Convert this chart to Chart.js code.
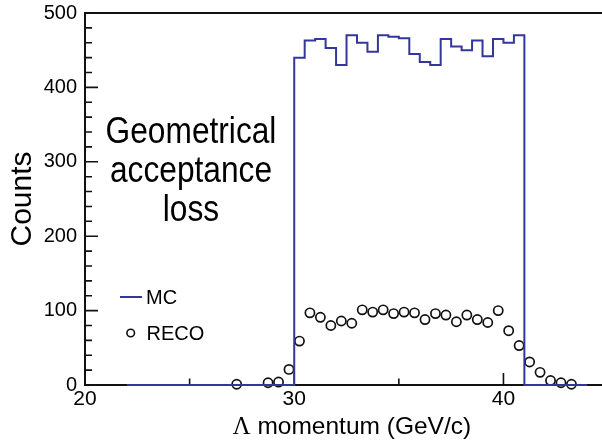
<!DOCTYPE html>
<html>
<head>
<meta charset="utf-8">
<script src="https://cdn.jsdelivr.net/npm/chart.js@4/dist/chart.umd.min.js"></script>
<style>
  html, body { margin: 0; padding: 0; background: #fff; }
  #wrap { width: 602px; height: 445px; }
</style>
</head>
<body>
<div id="wrap"><canvas id="ctx" width="602" height="445"></canvas></div>
<script>
// histogram binning (GeV/c)
const binWidth = 0.5;
const histLow = 22;

// MC counts per 0.5 GeV/c bin, 22 -> 44
const mcCounts = [
  0, 0, 0, 0, 0, 0, 0, 0, 0, 0, 0, 0, 0, 0, 0, 0,
  440, 463, 465, 453, 430, 470, 460, 448, 470, 468, 466,
  445, 434, 430, 465, 455, 450, 463, 442, 465, 460, 470,
  0, 0, 0, 0, 0, 0
];

// reconstructed counts, same bins
const recoCounts = [
  0, 0, 0, 0, 0, 0, 0, 0, 0, 0, 1, 0, 0, 3, 4, 21,
  59, 97, 91, 80, 86, 83, 101, 98, 101, 96, 98,
  97, 88, 96, 94, 85, 94, 88, 84, 100, 73, 53,
  31, 17, 6, 3, 1, 0
];

const xTicks = [20, 30, 40];
const xMinorTicks = [25, 35];
const yTicks = [0, 100, 200, 300, 400, 500];

const SANS = '"Liberation Sans", Arial, Helvetica, sans-serif';
const SERIF = '"Liberation Serif", "Times New Roman", serif';
const MC_BLUE = '#33379a';

// stepped line needs the left edge of every bin plus the closing edge
const mcPoints = mcCounts.map((c, i) => ({ x: histLow + i * binWidth, y: c }));
mcPoints.push({ x: histLow + mcCounts.length * binWidth, y: mcCounts[mcCounts.length - 1] });

// markers sit at bin centres, empty bins are not drawn
const recoPoints = recoCounts
  .map((c, i) => ({ x: histLow + (i + 0.5) * binWidth, y: c }))
  .filter(p => p.y > 0);

// ROOT-style frame: axis lines with ticks pointing into the pad
const frame = {
  id: 'frame',
  beforeDatasetsDraw(chart) {
    const { ctx, chartArea: a, scales: { x, y } } = chart;
    ctx.save();
    ctx.strokeStyle = '#111';
    ctx.lineWidth = 2;
    ctx.beginPath();
    ctx.moveTo(chart.width, a.top);
    ctx.lineTo(a.left, a.top);
    ctx.lineTo(a.left, a.bottom);
    ctx.lineTo(chart.width, a.bottom);
    ctx.stroke();

    ctx.lineWidth = 1.6;
    ctx.beginPath();
    for (let v = 0; v <= 500; v += 20) {
      const py = y.getPixelForValue(v);
      const len = yTicks.includes(v) ? 13 : 7;
      ctx.moveTo(a.left, py);
      ctx.lineTo(a.left + len, py);
    }
    xTicks.forEach(v => {
      const px = x.getPixelForValue(v);
      ctx.moveTo(px, a.bottom);
      ctx.lineTo(px, a.bottom - 12);
    });
    xMinorTicks.forEach(v => {
      const px = x.getPixelForValue(v);
      ctx.moveTo(px, a.bottom);
      ctx.lineTo(px, a.bottom - 6.5);
    });
    ctx.stroke();
    ctx.restore();
  }
};

// axis titles, legend and the annotation
const labels = {
  id: 'labels',
  afterDraw(chart) {
    const { ctx, chartArea: a } = chart;
    ctx.save();
    ctx.fillStyle = '#000';

    // y title
    ctx.save();
    ctx.translate(22.5, 199);
    ctx.rotate(-Math.PI / 2);
    ctx.font = '30px ' + SANS;
    ctx.textAlign = 'center';
    ctx.textBaseline = 'middle';
    ctx.fillText('Counts', 0, 0);
    ctx.restore();

    // x title, Lambda in a serif face
    const sym = 'Λ';
    const rest = ' momentum (GeV/c)';
    ctx.textBaseline = 'alphabetic';
    ctx.textAlign = 'left';
    ctx.font = '24.5px ' + SERIF;
    const w1 = ctx.measureText(sym).width;
    ctx.font = '24.5px ' + SANS;
    const w2 = ctx.measureText(rest).width;
    let tx = 352 - (w1 + w2) / 2;
    ctx.font = '24.5px ' + SERIF;
    ctx.fillText(sym, tx, 434);
    ctx.font = '24.5px ' + SANS;
    ctx.fillText(rest, tx + w1, 434);

    // legend
    ctx.strokeStyle = MC_BLUE;
    ctx.lineWidth = 2;
    ctx.beginPath();
    ctx.moveTo(a.left + 35, 297);
    ctx.lineTo(a.left + 57, 297);
    ctx.stroke();
    ctx.strokeStyle = '#111';
    ctx.lineWidth = 1.6;
    ctx.beginPath();
    ctx.arc(a.left + 45.7, 333, 3.8, 0, Math.PI * 2);
    ctx.stroke();
    ctx.font = '20px ' + SANS;
    ctx.textBaseline = 'middle';
    ctx.fillText('MC', a.left + 61, 298.5);
    ctx.fillText('RECO', a.left + 61.5, 334);

    // annotation
    ctx.font = '36px ' + SANS;
    ctx.textAlign = 'center';
    ctx.textBaseline = 'alphabetic';
    ['Geometrical', 'acceptance', 'loss'].forEach((line, i) => {
      ctx.save();
      ctx.translate(191, 142.5 + i * 39);
      ctx.scale(0.88, 1);
      ctx.fillText(line, 0, 0);
      ctx.restore();
    });
    ctx.restore();
  }
};

const tickFont = { family: SANS, size: 20 };

const chartJs = new Chart(document.getElementById('ctx'), {
  type: 'scatter',
  data: {
    datasets: [
      {
        label: 'MC',
        type: 'line',
        data: mcPoints,
        stepped: 'before',
        borderColor: MC_BLUE,
        borderWidth: 2,
        pointRadius: 0,
        fill: false,
        clip: 6
      },
      {
        label: 'RECO',
        data: recoPoints,
        pointRadius: 4.6,
        pointHoverRadius: 4.6,
        borderColor: '#111',
        borderWidth: 1.7,
        backgroundColor: 'rgba(0,0,0,0)',
        clip: 8
      }
    ]
  },
  options: {
    responsive: false,
    animation: false,
    layout: { autoPadding: false, padding: { top: 13, right: 0, left: 0, bottom: 0 } },
    plugins: {
      legend: { display: false },
      tooltip: { enabled: false }
    },
    scales: {
      x: {
        type: 'linear',
        min: 20,
        max: 44.71,
        grid: { display: false, drawTicks: false },
        border: { display: false },
        afterBuildTicks: s => { s.ticks = xTicks.map(v => ({ value: v })); },
        afterFit: s => { s.height = 60; s.paddingLeft = 0; s.paddingRight = 0; },
        ticks: { font: { family: SANS, size: 21 }, color: '#000', padding: 2, maxRotation: 0 }
      },
      y: {
        min: 0,
        max: 500,
        grid: { display: false, drawTicks: false },
        border: { display: false },
        afterBuildTicks: s => { s.ticks = yTicks.map(v => ({ value: v })); },
        afterFit: s => { s.width = 85; s.paddingTop = 0; s.paddingBottom = 0; },
        ticks: { font: tickFont, color: '#000', padding: 8 }
      }
    }
  },
  plugins: [frame, labels]
});
</script>
</body>
</html>
